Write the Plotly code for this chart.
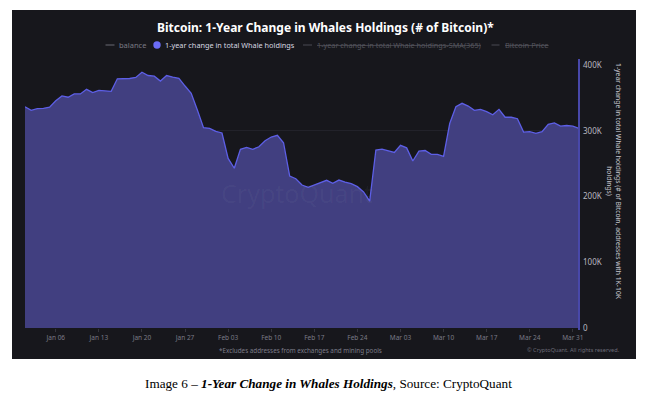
import pandas as pd
import plotly.graph_objects as go

# ---- data ----
start_date = "2025-01-01"
whale_change_k = [
    336.6, 331.0, 333.5, 334.0, 336.0, 345.7, 353.0, 351.0, 356.0, 356.0,
    363.0, 358.0, 361.5, 361.0, 360.0, 379.0, 379.0, 379.5, 381.0, 389.0,
    384.0, 383.0, 375.6, 384.0, 381.7, 379.8, 368.0, 357.0, 331.6, 304.6,
    303.7, 299.0, 296.6, 258.0, 243.0, 271.8, 274.8, 271.8, 275.7, 284.9,
    290.5, 293.0, 281.8, 231.0, 227.0, 217.5, 214.0, 217.5, 221.0, 224.6,
    220.0, 225.0, 222.0, 219.5, 215.0, 207.0, 193.0, 270.7, 272.0, 269.0,
    267.0, 277.9, 274.0, 254.0, 269.0, 270.0, 264.0, 264.0, 261.0, 311.0,
    336.6, 341.7, 337.6, 331.0, 332.6, 329.0, 324.4, 332.6, 320.5, 320.5,
    318.3, 298.0, 298.6, 296.0, 298.6, 309.8, 312.0, 307.0, 308.0, 307.0,
    303.7,
]
dates = pd.date_range(start_date, periods=len(whale_change_k), freq="D")
values = [v * 1000 for v in whale_change_k]

y_tick_vals = [0, 100000, 200000, 300000, 400000]
y_tick_text = ["0", "100K", "200K", "300K", "400K"]
x_tick_dates = pd.date_range("2025-01-06", "2025-03-31", freq="7D")
x_tick_text = [d.strftime("%b %d") for d in x_tick_dates]

title_text = "Bitcoin: 1-Year Change in Whales Holdings (# of Bitcoin)*"
legend_items = ["balance", "1-year change in total Whale holdings",
                "1-year change in total Whale holdings-SMA(365)", "Bitcoin Price"]
y_title = ("1-year change in total Whale holdings (# of Bitcoin, addresses with 1K-10K"
           "<br>holdings)")
footnote = "*Excludes addresses from exchanges and mining pools"
copyright_text = "© CryptoQuant. All rights reserved."
caption = ("Image 6 – <b><i>1-Year Change in Whales Holdings</i></b>, "
           "Source: CryptoQuant")

# ---- geometry helpers (screen pixel -> paper); page body has an 8px offset ----
OFF = 8
W, H = 664, 398
L, T = 25 - OFF, 65 - OFF
R = W - (579 - OFF)
B = H - (328 - OFF)
PW, PH = W - L - R, H - T - B


def xp(px):
    return (px - OFF - L) / PW


def yp(py):
    return (H - B - (py - OFF)) / PH


BG = "#17171c"
FILL = "#413f80"
LINE = "#5d5fe6"
FONT = "Noto Sans"

fig = go.Figure()
fig.add_trace(go.Scatter(
    x=dates, y=values, mode="lines", fill="tozeroy",
    line=dict(color=LINE, width=1.3), fillcolor=FILL,
    name=legend_items[1], showlegend=False,
))

shapes = [
    dict(type="rect", xref="paper", yref="paper", layer="below",
         x0=xp(12), x1=xp(636), y0=yp(359), y1=yp(10),
         fillcolor=BG, line=dict(width=0)),
    # right axis line (runs slightly past the plot area, as in the reference)
    dict(type="line", xref="paper", yref="paper", x0=xp(579), x1=xp(579),
         y0=yp(330), y1=yp(59), line=dict(color="#4848aa", width=2)),
    # legend symbols
    dict(type="line", xref="paper", yref="paper", x0=xp(105.5), x1=xp(114.5),
         y0=yp(45), y1=yp(45), line=dict(color="#6a6a72", width=1)),
    dict(type="circle", xref="paper", yref="paper", x0=xp(153.3), x1=xp(160.7),
         y0=yp(48.7), y1=yp(41.3), fillcolor="#6b6cf6", line=dict(width=0)),
    dict(type="line", xref="paper", yref="paper", x0=xp(303), x1=xp(312),
         y0=yp(45), y1=yp(45), line=dict(color="#4a4a52", width=1)),
    dict(type="line", xref="paper", yref="paper", x0=xp(491.5), x1=xp(499.5),
         y0=yp(45), y1=yp(45), line=dict(color="#4a4a52", width=1)),
]

ann = []


def add_text(text, px, py, size, color, xanchor="left", family=FONT, **kw):
    ann.append(dict(text=text, x=xp(px), y=yp(py), xref="paper", yref="paper",
                    xanchor=xanchor, yanchor="middle", showarrow=False,
                    font=dict(size=size, color=color, family=family), **kw))


add_text("<b>" + title_text + "</b>", 325, 27, 12, "#ffffff", xanchor="center")
add_text(legend_items[0], 116.5, 45, 7.5, "#7a7a84")
add_text(legend_items[1], 163, 45, 7.3, "#d8d8e0")
add_text("<s>" + legend_items[2] + "</s>", 315, 45, 7.3, "#55555d")
add_text("<s>" + legend_items[3] + "</s>", 502.5, 45, 7.5, "#55555d")
add_text(y_title, 614, 181, 6.8, "#c8c8d0", xanchor="center", textangle=90)
add_text(footnote, 300, 350, 6.3, "#7c7c88", xanchor="center")
add_text(copyright_text, 622, 350, 5.6, "#6c6c78", xanchor="right")
add_text("CryptoQuant", 297, 193, 25, "rgba(255,255,255,0.04)", xanchor="center")
add_text(caption, 328, 383, 13.2, "#000000", xanchor="center",
         family="Liberation Serif")

fig.update_layout(
    width=W, height=H,
    margin=dict(l=L, r=R, t=T, b=B, pad=0),
    paper_bgcolor="#ffffff",
    plot_bgcolor=BG,
    shapes=shapes,
    annotations=ann,
    showlegend=False,
    font=dict(family=FONT),
    xaxis=dict(
        range=[dates[0], dates[-1]],
        tickvals=list(x_tick_dates), ticktext=x_tick_text,
        tickfont=dict(size=6.5, color="#7a7a86"),
        ticks="outside", ticklen=3, tickcolor="#34343c",
        showgrid=False, zeroline=False, showline=False,
    ),
    yaxis=dict(
        side="right", range=[0, 400000],
        tickvals=y_tick_vals, ticktext=y_tick_text,
        tickfont=dict(size=8, color="#b8b8c0"),
        showline=False,
        gridcolor="#22222a", gridwidth=1, zeroline=False,
        ticks="", ticklabelstandoff=3,
    ),
)

fig.write_html("out.html")
